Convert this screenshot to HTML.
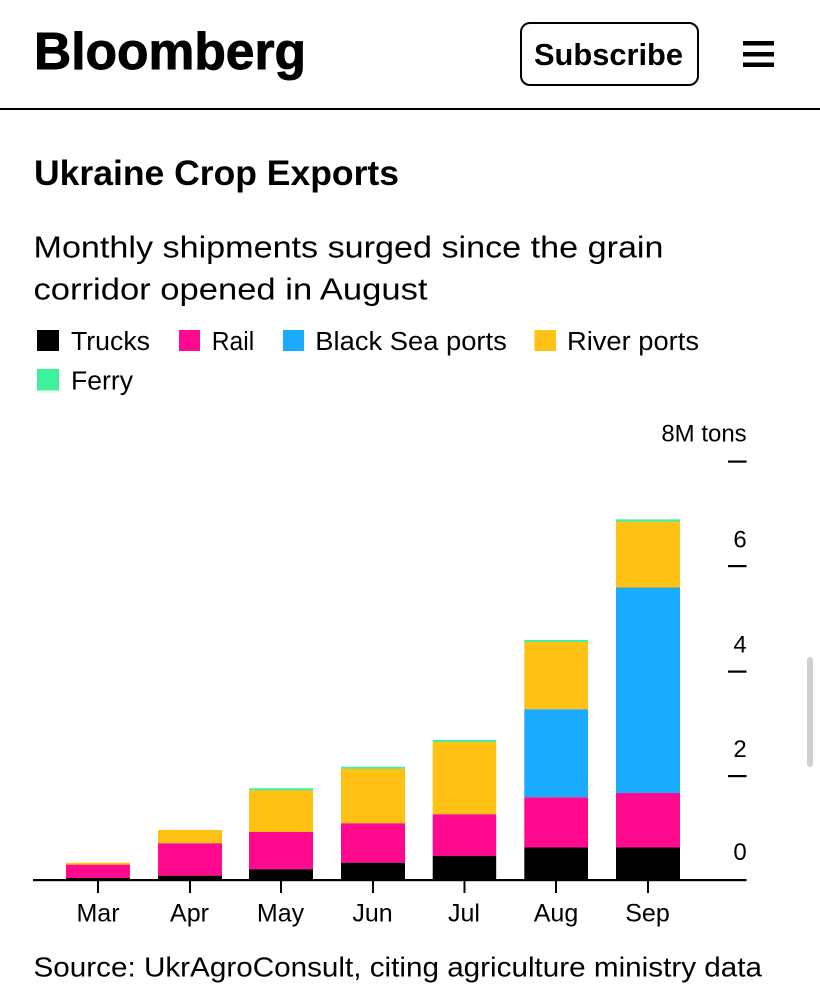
<!DOCTYPE html>
<html>
<head>
<meta charset="utf-8">
<style>
  html, body { margin: 0; padding: 0; background: #fff; }
  body { width: 820px; height: 999px; overflow: hidden; }
  svg { display: block; }
  text { font-family: "Liberation Sans", Arial, sans-serif; fill: #000; }
</style>
</head>
<body>
<svg width="820" height="999" viewBox="0 0 820 999" xmlns="http://www.w3.org/2000/svg">
  <rect x="0" y="0" width="820" height="999" fill="#fff"/>

  <!-- Header -->
  <text x="34" y="69" font-size="52" font-weight="bold" stroke="#000" stroke-width="0.9" textLength="272" lengthAdjust="spacingAndGlyphs">Bloomberg</text>
  <rect x="521" y="23" width="177" height="62" rx="9" ry="9" fill="none" stroke="#000" stroke-width="2"/>
  <text x="534" y="65" font-size="31" font-weight="bold" textLength="149" lengthAdjust="spacingAndGlyphs">Subscribe</text>
  <rect x="743" y="41" width="31" height="4.5" fill="#000"/>
  <rect x="743" y="52" width="31" height="4.5" fill="#000"/>
  <rect x="743" y="62.5" width="31" height="4.5" fill="#000"/>
  <rect x="0" y="108" width="820" height="2" fill="#000"/>

  <!-- Title -->
  <text x="34" y="185" font-size="35" font-weight="bold" textLength="365" lengthAdjust="spacingAndGlyphs">Ukraine Crop Exports</text>
  <text x="33.5" y="257.3" font-size="31" textLength="630" lengthAdjust="spacingAndGlyphs">Monthly shipments surged since the grain</text>
  <text x="33.5" y="299.3" font-size="31" textLength="394" lengthAdjust="spacingAndGlyphs">corridor opened in August</text>

  <!-- Legend -->
  <rect x="37" y="330" width="22" height="21" fill="#000"/>
  <text x="71" y="350" font-size="25.5" textLength="79" lengthAdjust="spacingAndGlyphs">Trucks</text>
  <rect x="179" y="330" width="21" height="21" fill="#ff0a8e"/>
  <text x="211.7" y="350" font-size="25.5" textLength="42.5" lengthAdjust="spacingAndGlyphs">Rail</text>
  <rect x="283" y="330" width="21" height="21" fill="#1aabff"/>
  <text x="315.3" y="350" font-size="25.5" textLength="191.5" lengthAdjust="spacingAndGlyphs">Black Sea ports</text>
  <rect x="534.5" y="330" width="21.5" height="21" fill="#ffc214"/>
  <text x="567" y="350" font-size="25.5" textLength="132" lengthAdjust="spacingAndGlyphs">River ports</text>
  <rect x="37" y="369" width="22" height="21.5" fill="#3ef29d"/>
  <text x="71" y="389.3" font-size="25.5" textLength="62" lengthAdjust="spacingAndGlyphs">Ferry</text>

  <!-- Y axis labels and ticks -->
  <text x="746.7" y="441.3" font-size="24" text-anchor="end">8M tons</text>
  <text x="746.7" y="547.5" font-size="24" text-anchor="end">6</text>
  <text x="746.7" y="652.5" font-size="24" text-anchor="end">4</text>
  <text x="746.7" y="757" font-size="24" text-anchor="end">2</text>
  <text x="746.7" y="860" font-size="24" text-anchor="end">0</text>
  <rect x="728" y="460.5" width="18.5" height="2.2" fill="#000"/>
  <rect x="728" y="565" width="18.5" height="2.2" fill="#000"/>
  <rect x="728" y="670.5" width="18.5" height="2.2" fill="#000"/>
  <rect x="728" y="775" width="18.5" height="2.2" fill="#000"/>

  <!-- Bars -->
  <!-- Mar -->
  <rect x="66" y="862.7" width="64" height="2.2" fill="#ffc214"/>
  <rect x="66" y="864.7" width="64" height="13.5" fill="#ff0a8e"/>
  <rect x="66" y="878" width="64" height="2" fill="#000"/>
  <!-- Apr -->
  <rect x="158" y="830" width="64" height="13.3" fill="#ffc214"/>
  <rect x="158" y="843.3" width="64" height="32.4" fill="#ff0a8e"/>
  <rect x="158" y="875.7" width="64" height="4.3" fill="#000"/>
  <!-- May -->
  <rect x="249" y="788.3" width="64" height="2.2" fill="#3ef29d"/>
  <rect x="249" y="790.3" width="64" height="41.7" fill="#ffc214"/>
  <rect x="249" y="832" width="64" height="37.3" fill="#ff0a8e"/>
  <rect x="249" y="869.3" width="64" height="10.7" fill="#000"/>
  <!-- Jun -->
  <rect x="341" y="766.7" width="64" height="2.2" fill="#3ef29d"/>
  <rect x="341" y="768.7" width="64" height="54.6" fill="#ffc214"/>
  <rect x="341" y="823.3" width="64" height="39.4" fill="#ff0a8e"/>
  <rect x="341" y="862.7" width="64" height="17.3" fill="#000"/>
  <!-- Jul -->
  <rect x="432.7" y="740" width="63.5" height="2.2" fill="#3ef29d"/>
  <rect x="432.7" y="742" width="63.5" height="72.3" fill="#ffc214"/>
  <rect x="432.7" y="814.3" width="63.5" height="41.7" fill="#ff0a8e"/>
  <rect x="432.7" y="856" width="63.5" height="24" fill="#000"/>
  <!-- Aug -->
  <rect x="524.3" y="640" width="63.7" height="2.2" fill="#3ef29d"/>
  <rect x="524.3" y="642" width="63.7" height="67.3" fill="#ffc214"/>
  <rect x="524.3" y="709.3" width="63.7" height="88" fill="#1aabff"/>
  <rect x="524.3" y="797.3" width="63.7" height="50.2" fill="#ff0a8e"/>
  <rect x="524.3" y="847.5" width="63.7" height="32.5" fill="#000"/>
  <!-- Sep -->
  <rect x="616" y="519.4" width="64" height="2.4" fill="#3ef29d"/>
  <rect x="616" y="521.7" width="64" height="65.8" fill="#ffc214"/>
  <rect x="616" y="587.5" width="64" height="205.5" fill="#1aabff"/>
  <rect x="616" y="793" width="64" height="54.5" fill="#ff0a8e"/>
  <rect x="616" y="847.5" width="64" height="32.5" fill="#000"/>

  <!-- Baseline -->
  <rect x="33" y="879" width="713.5" height="2.2" fill="#000"/>

  <!-- X ticks -->
  <rect x="97" y="880" width="2" height="13" fill="#000"/>
  <rect x="189" y="880" width="2" height="13" fill="#000"/>
  <rect x="280" y="880" width="2" height="13" fill="#000"/>
  <rect x="372" y="880" width="2" height="13" fill="#000"/>
  <rect x="463.5" y="880" width="2" height="13" fill="#000"/>
  <rect x="555" y="880" width="2" height="13" fill="#000"/>
  <rect x="647" y="880" width="2" height="13" fill="#000"/>

  <!-- Month labels -->
  <text x="98" y="921.7" font-size="25" text-anchor="middle">Mar</text>
  <text x="189.5" y="921.7" font-size="25" text-anchor="middle">Apr</text>
  <text x="280.5" y="921.7" font-size="25" text-anchor="middle">May</text>
  <text x="372.5" y="921.7" font-size="25" text-anchor="middle">Jun</text>
  <text x="464" y="921.7" font-size="25" text-anchor="middle">Jul</text>
  <text x="556" y="921.7" font-size="25" text-anchor="middle">Aug</text>
  <text x="647.5" y="921.7" font-size="25" text-anchor="middle">Sep</text>

  <!-- Source -->
  <text x="33.5" y="976.7" font-size="28" textLength="728.5" lengthAdjust="spacingAndGlyphs">Source: UkrAgroConsult, citing agriculture ministry data</text>

  <!-- Scrollbar -->
  <rect x="807" y="657" width="6" height="110" rx="3" ry="3" fill="#cfcfcf"/>
</svg>
</body>
</html>
